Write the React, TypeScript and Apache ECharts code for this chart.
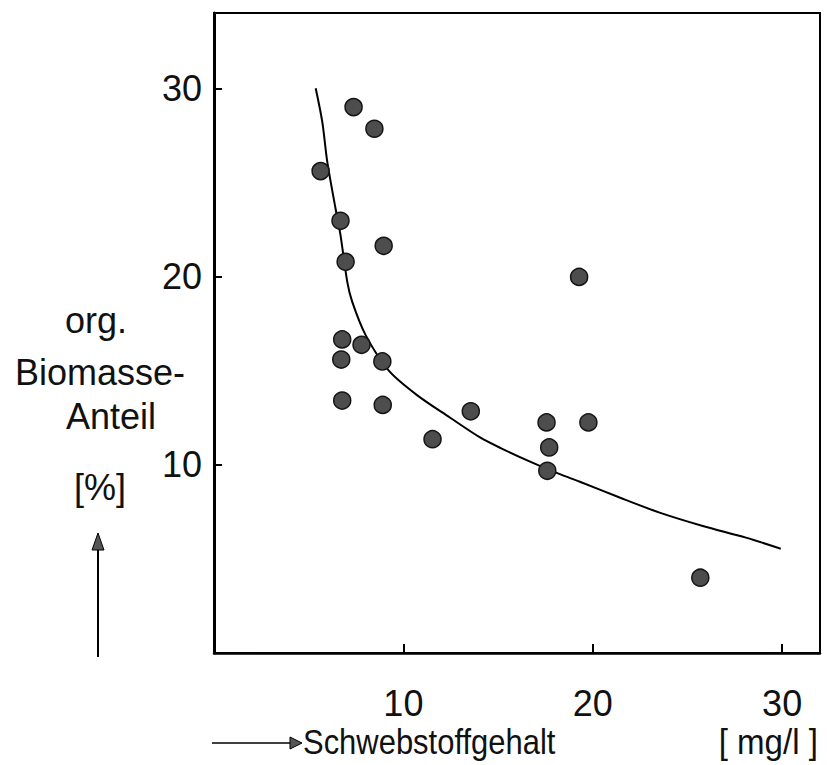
import React, { useEffect, useRef } from 'react';
import * as echarts from 'echarts';

// Scatter measurements: Schwebstoffgehalt [mg/l] vs org. Biomasse-Anteil [%]
const pointX = [5.63, 7.37, 8.47, 6.68, 6.95, 8.96, 6.77, 7.79, 6.72, 8.89, 6.77, 8.91, 11.54, 13.56, 19.28, 17.56, 19.77, 17.7, 17.6, 25.68];
const pointY = [25.6, 29.0, 27.85, 22.96, 20.78, 21.63, 16.66, 16.37, 15.59, 15.49, 13.41, 13.18, 11.36, 12.84, 19.98, 12.25, 12.25, 10.92, 9.68, 4.0];

// Fitted curve
const curveX = [5.37, 5.72, 5.98, 6.42, 6.68, 7.04, 7.3, 8.0, 9.23, 10.72, 12.47, 14.05, 15.11, 16.84, 18.26, 19.32, 21.42, 23.53, 25.81, 28.09, 29.93];
const curveY = [30.0, 28.2, 26.1, 23.6, 22.2, 19.7, 18.65, 16.9, 15.0, 13.7, 12.5, 11.45, 10.9, 10.1, 9.5, 9.1, 8.26, 7.46, 6.75, 6.13, 5.54];

const xTickLabels = [10, 20, 30];
const yTickLabels = [10, 20, 30];

const FONT = 'Liberation Sans';

export default function App() {
  const ref = useRef<HTMLDivElement>(null);
  useEffect(() => {
    const chart = echarts.init(ref.current!, null, { renderer: 'svg' });
    const txt = (text: string, x: number, y: number, align: string, size = 36, scaleX = 1) => ({
      type: 'text',
      x,
      y,
      scaleX,
      style: {
        text,
        fontSize: size,
        fontFamily: FONT,
        fill: '#111',
        align,
        verticalAlign: 'middle',
      },
    });
    chart.setOption({
      animation: false,
      backgroundColor: '#fff',
      grid: {
        left: 214,
        top: 13,
        right: 7,
        bottom: 112,
        show: true,
        borderColor: '#000',
        borderWidth: 2,
      },
      xAxis: {
        type: 'value',
        min: 0,
        max: 32,
        interval: 10,
        axisLine: { show: true, lineStyle: { color: '#000', width: 2.5 } },
        axisTick: { show: true, inside: true, length: 9, lineStyle: { color: '#000', width: 2 } },
        axisLabel: {
          formatter: (v: number) => (xTickLabels.includes(v) ? String(v) : ''),
          fontSize: 36,
          fontFamily: FONT,
          color: '#111',
          margin: 32,
        },
        splitLine: { show: false },
      },
      yAxis: {
        type: 'value',
        min: 0,
        max: 34,
        interval: 10,
        axisLine: { show: true, lineStyle: { color: '#000', width: 3 } },
        axisTick: { show: true, inside: true, length: 8, lineStyle: { color: '#000', width: 2 } },
        axisLabel: {
          formatter: (v: number) => (yTickLabels.includes(v) ? String(v) : ''),
          fontSize: 36,
          fontFamily: FONT,
          color: '#111',
          margin: 12,
        },
        splitLine: { show: false },
      },
      series: [
        {
          type: 'line',
          data: curveX.map((x, i) => [x, curveY[i]]),
          smooth: 0.3,
          showSymbol: false,
          lineStyle: { color: '#000', width: 2 },
          z: 2,
        },
        {
          type: 'scatter',
          data: pointX.map((x, i) => [x, pointY[i]]),
          symbolSize: 17,
          itemStyle: { color: '#4d4d4d', borderColor: '#151515', borderWidth: 1.5, opacity: 1 },
          z: 3,
        },
      ],
      graphic: [
        txt('org.', 96, 320, 'center'),
        txt('Biomasse-', 100, 372, 'center'),
        txt('Anteil', 111, 416, 'center'),
        txt('[%]', 100, 487, 'center'),
        {
          type: 'line',
          shape: { x1: 98, y1: 657, x2: 98, y2: 545 },
          style: { stroke: '#000', lineWidth: 2 },
        },
        {
          type: 'polygon',
          shape: { points: [[92, 550], [104, 550], [98, 533]] },
          style: { fill: '#555', stroke: '#000', lineWidth: 1 },
        },
        {
          type: 'line',
          shape: { x1: 212, y1: 743, x2: 292, y2: 743 },
          style: { stroke: '#000', lineWidth: 1.5 },
        },
        {
          type: 'polygon',
          shape: { points: [[290, 737], [290, 749], [302, 743]] },
          style: { fill: '#555', stroke: '#000', lineWidth: 1 },
        },
        txt('Schwebstoffgehalt', 303, 742, 'left', 36, 0.86),
        txt('[ mg/l ]', 818, 742, 'right', 36, 0.92),
      ],
    });
    return () => chart.dispose();
  }, []);
  return (
    <div
      ref={ref}
      style={{ position: 'absolute', left: 0, top: 0, width: 827, height: 765 }}
    />
  );
}
